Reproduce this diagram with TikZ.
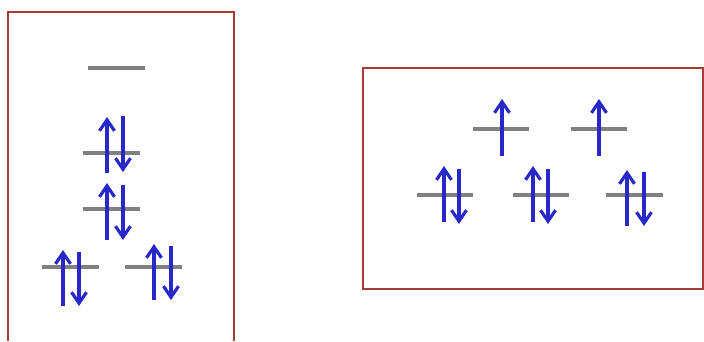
\documentclass[tikz,border=0pt]{standalone}
\usepackage{xcolor}
\usepackage{tikz}
\usetikzlibrary{arrows.meta}

\definecolor{boxred}{RGB}{165,60,60}
\definecolor{levelgray}{RGB}{128,128,128}
\definecolor{spinblue}{RGB}{40,40,200}

\begin{document}
\begin{tikzpicture}[
  x=1pt, y=-1pt,
  frame/.style={draw=boxred, line width=1.3pt},
  level/.style={draw=levelgray, line width=3.5pt},
  spin/.style={draw=spinblue, line width=3.2pt, -{Straight Barb[length=11pt, width=15pt, line width=3.2pt]}}
]
  \useasboundingbox (0,0) rectangle (704,341);

  % left box (open at the bottom)
  \draw[frame] (8,341) -- (8,12) -- (234,12) -- (234,341);
  \draw[level] (88,68) -- (145,68);
  \draw[level] (83,153) -- (140,153);
  \draw[level] (83,209) -- (140,209);
  \draw[level] (42,267) -- (99,267);
  \draw[level] (125,267) -- (182,267);

  \draw[spin] (107,173) -- (107,117);
  \draw[spin] (123,116) -- (123,172);
  \draw[spin] (107,240) -- (107,183);
  \draw[spin] (123,185) -- (123,240);
  \draw[spin] (63,306) -- (63,250);
  \draw[spin] (79,252) -- (79,306);
  \draw[spin] (154,300) -- (154,244);
  \draw[spin] (171,246) -- (171,300);

  % right box
  \draw[frame] (363,68) rectangle (703,289);
  \draw[level] (473,129) -- (529,129);
  \draw[level] (571,129) -- (627,129);
  \draw[level] (417,195) -- (473,195);
  \draw[level] (513,195) -- (569,195);
  \draw[level] (606,195) -- (663,195);

  \draw[spin] (502,156) -- (502,99);
  \draw[spin] (599,156) -- (599,99);
  \draw[spin] (444,222) -- (444,166);
  \draw[spin] (459,169) -- (459,224);
  \draw[spin] (533,222) -- (533,166);
  \draw[spin] (548,169) -- (548,224);
  \draw[spin] (627,226) -- (627,170);
  \draw[spin] (644,172) -- (644,226);
\end{tikzpicture}
\end{document}
